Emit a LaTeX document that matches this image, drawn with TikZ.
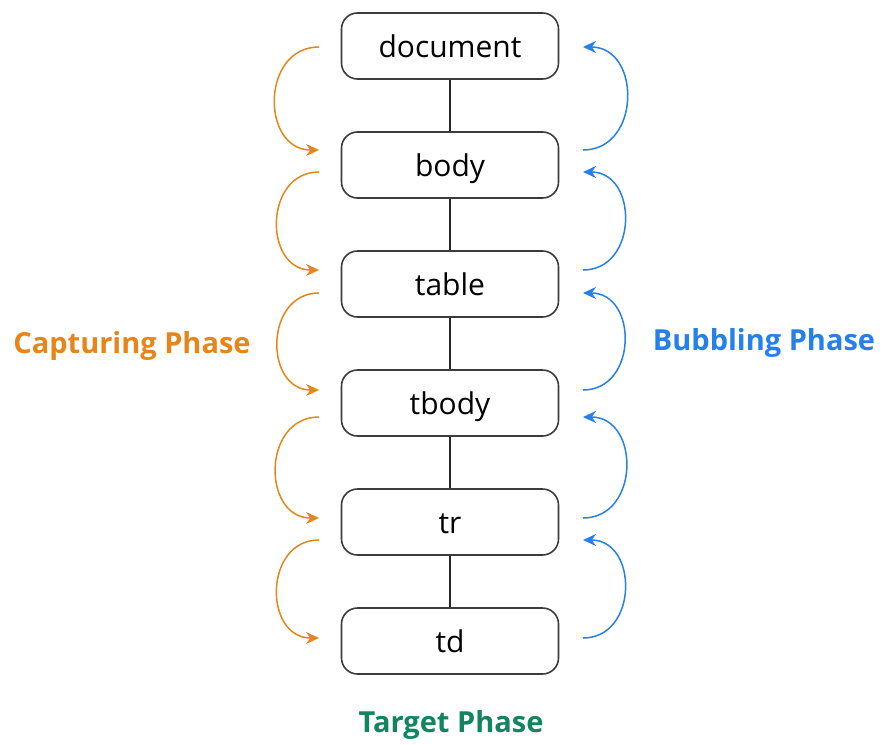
\documentclass[tikz,border=0pt]{standalone}
\usepackage{fontspec}
\setmainfont{Open Sans}
\usetikzlibrary{arrows.meta}
\definecolor{capt}{HTML}{E6861A}
\definecolor{bubb}{HTML}{2680EB}
\definecolor{targ}{HTML}{12855F}
\definecolor{edge}{HTML}{3C3C3C}
\tikzset{
  elem/.style={draw=edge, line width=1.6pt, rounded corners=16pt,
    minimum width=217pt, minimum height=66pt, inner sep=0pt,
    text height=23pt, text depth=1pt,
    font=\fontsize{30}{33}\selectfont, text=black},
  link/.style={draw=black!85, line width=1.4pt},
  capflow/.style={draw=capt, line width=1.5pt,
    -{Stealth[length=13pt,width=12pt]}, out=180, in=180, looseness=1.45},
  bubflow/.style={draw=bubb, line width=1.5pt,
    -{Stealth[length=13pt,width=12pt]}, out=0, in=0, looseness=1.45},
  phase/.style={font=\bfseries\fontsize{29}{32}\selectfont, inner sep=0pt}
}
\begin{document}
\begin{tikzpicture}[x=1pt, y=-1pt]
  \useasboundingbox (0,0) rectangle (883,744);

  % DOM tree, one element per level
  \node[elem] (doc)   at (450,46)  {document};
  \node[elem] (body)  at (450,165) {body};
  \node[elem] (table) at (450,284) {table};
  \node[elem] (tbody) at (450,403) {tbody};
  \node[elem] (tr)    at (450,522) {tr};
  \node[elem] (td)    at (450,641) {td};

  \draw[link] (doc) -- (body);
  \draw[link] (body) -- (table);
  \draw[link] (table) -- (tbody);
  \draw[link] (tbody) -- (tr);
  \draw[link] (tr) -- (td);

  % end points of the phase arrows
  \foreach \i/\ya/\yb in {1/47/150, 2/172/270, 3/293/390, 4/417/518, 5/540/638} {
    \coordinate (cs\i) at (319,\ya);
    \coordinate (ce\i) at (319,\yb);
    \coordinate (bs\i) at (583,\yb);
    \coordinate (be\i) at (583,\ya);
  }

  % capturing: down the tree on the left
  \foreach \i in {1,...,5} \draw[capflow] (cs\i) to (ce\i);
  % bubbling: up the tree on the right
  \foreach \i in {1,...,5} \draw[bubflow] (bs\i) to (be\i);

  \node[phase, text=capt] (capl) at (132,346) {Capturing Phase};
  \node[phase, text=bubb] (bubl) at (764,343) {Bubbling Phase};
  \node[phase, text=targ] (tarl) at (451,725) {Target Phase};
\end{tikzpicture}
\end{document}
